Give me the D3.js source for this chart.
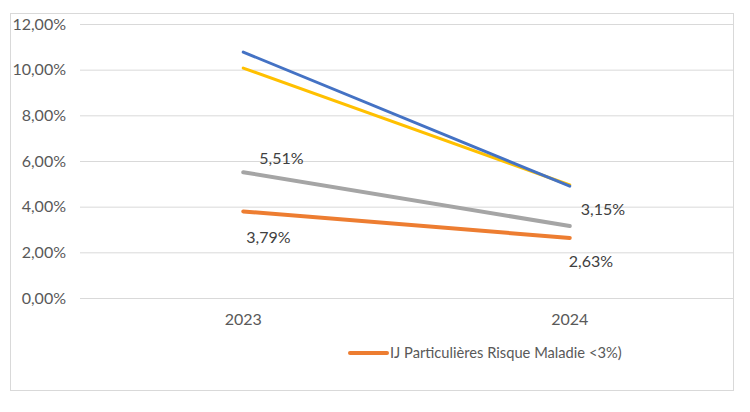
<!DOCTYPE html>
<html><head><meta charset="utf-8">
<script src="https://cdn.jsdelivr.net/npm/d3@7"></script>
<style>body{margin:0;background:#fff;} svg{display:block;}</style>
</head><body>
<svg id="c" width="750" height="412"></svg>
<script>
const categories = ["2023", "2024"];
const blueValues = [10.77, 4.90];
const yellowValues = [10.07, 4.95];
const greyValues = [5.51, 3.15];
const orangeValues = [3.79, 2.63];
const yTicks = [0, 2, 4, 6, 8, 10, 12];
const legendLabel = "IJ Particulières Risque Maladie <3%)";

const series = [
  {name: "yellow", values: yellowValues, color: "#FFC000", width: 3, labels: false},
  {name: "blue", values: blueValues, color: "#4472C4", width: 3, labels: false},
  {name: "grey", values: greyValues, color: "#A5A5A5", width: 4, labels: true},
  {name: "orange", values: orangeValues, color: "#ED7D31", width: 4, labels: true}
];

const svg = d3.select("#c");
const font = "Lato, 'Open Sans', sans-serif";
const fs = "16px";
const fmt = v => v.toFixed(2).replace(".", ",") + "%";

svg.append("rect").attr("x", 10.5).attr("y", 13.5).attr("width", 723).attr("height", 377)
  .attr("fill", "#fff").attr("stroke", "#D9D9D9");

const x = d3.scaleBand().domain(categories).range([80, 733]);
const y = d3.scaleLinear().domain([0, 12]).range([298, 24]);

const yAxis = svg.append("g").attr("transform", "translate(80,0)")
  .call(d3.axisLeft(y).tickValues(yTicks).tickSize(-653).tickFormat(fmt).tickPadding(14));
yAxis.select(".domain").remove();
yAxis.selectAll("line").attr("stroke", "#D9D9D9");
yAxis.selectAll("text").attr("fill", "#595959").style("font-family", font).style("font-size", fs);

const xAxis = svg.append("g").attr("transform", "translate(0,298)")
  .call(d3.axisBottom(x).tickSize(0).tickPadding(16));
xAxis.select(".domain").remove();
xAxis.selectAll("text").attr("fill", "#595959").style("font-family", font).style("font-size", fs);

const line = d3.line().x((d, i) => x(categories[i]) + x.bandwidth() / 2).y(d => y(d));
series.forEach(s => {
  svg.append("path").datum(s.values).attr("d", line).attr("fill", "none")
    .attr("stroke", s.color).attr("stroke-width", s.width).attr("stroke-linecap", "round");
});

// data labels
const labelOffsets = {
  grey: [[16, -8], [11, -11]],
  orange: [[3, 32], [-1, 29]]
};
series.filter(s => s.labels).forEach(s => {
  s.values.forEach((v, i) => {
    const off = labelOffsets[s.name][i];
    svg.append("text")
      .attr("x", x(categories[i]) + x.bandwidth() / 2 + off[0])
      .attr("y", y(v) + off[1])
      .attr("fill", "#404040").style("font-family", font).style("font-size", fs)
      .text(fmt(v));
  });
});

// legend
svg.append("line").attr("x1", 350).attr("x2", 387).attr("y1", 353).attr("y2", 353)
  .attr("stroke", "#ED7D31").attr("stroke-width", 4).attr("stroke-linecap", "round");
svg.append("text").attr("x", 390).attr("y", 358).attr("fill", "#595959")
  .style("font-family", font).style("font-size", "14.7px").text(legendLabel);
</script>
</body></html>
